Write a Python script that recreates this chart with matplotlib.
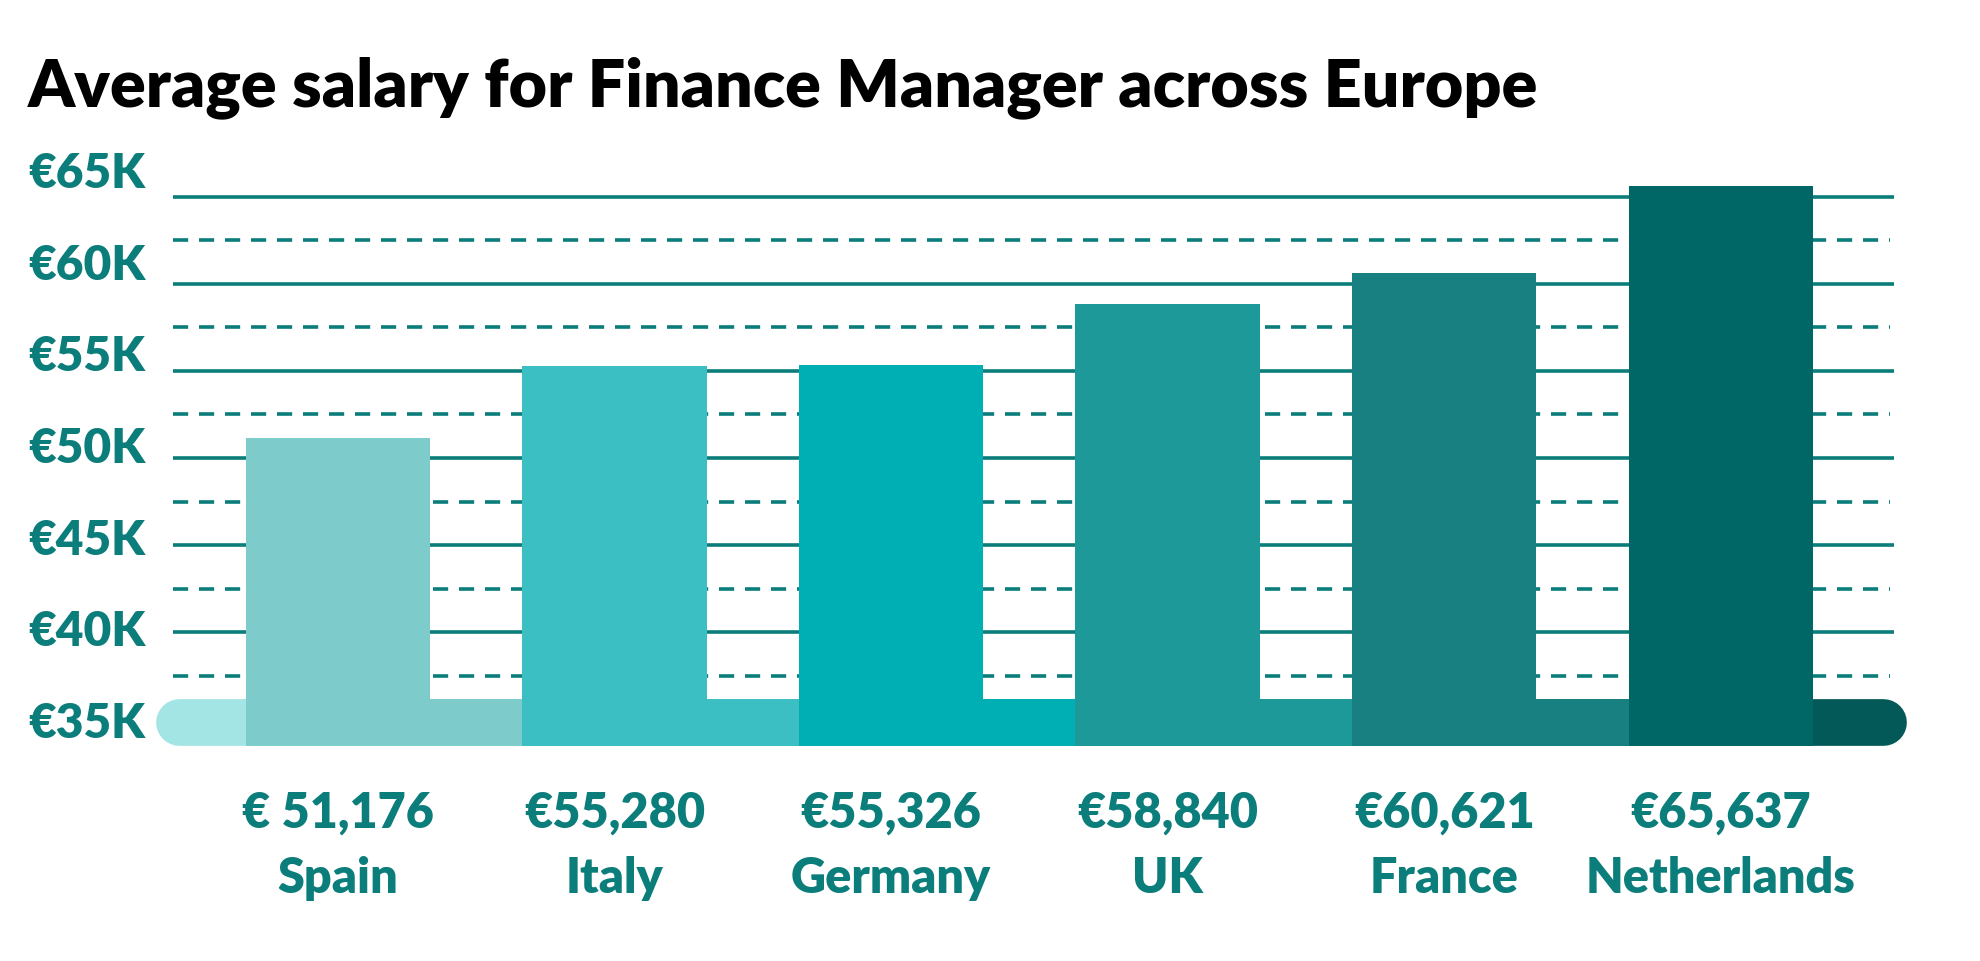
import matplotlib
matplotlib.use('Agg')
import matplotlib.pyplot as plt
import numpy as np

countries = ['Spain', 'Italy', 'Germany', 'UK', 'France', 'Netherlands']
salaries = [51176, 55280, 55326, 58840, 60621, 65637]
value_labels = ['€ 51,176', '€55,280', '€55,326', '€58,840', '€60,621', '€65,637']
bar_colors = ['#7ecbcb', '#3cbfc2', '#00afb3', '#1e9999', '#188080', '#006666']
cap_left_color = '#a3e4e4'
cap_right_color = '#035858'
major_ticks = [35, 40, 45, 50, 55, 60, 65]
tick_labels = ['€35K', '€40K', '€45K', '€50K', '€55K', '€60K', '€65K']
minor_ticks = [37.5, 42.5, 47.5, 52.5, 57.5, 62.5]

teal = '#0b7d7a'
font = ['Lato', 'DejaVu Sans']
plt.rcParams['font.family'] = font

W, H = 1980, 961
fig = plt.figure(figsize=(W / 100, H / 100), dpi=100)
ax = fig.add_axes([0, 0, 1, 1])
ax.set_xlim(-1.2213, 5.937)
ax.set_ylim(21.13, 76.29)
ax.axis('off')

x = np.arange(len(countries))
bar_w = 0.667
pill_bot, pill_top = 33.48, 36.16
pill_h = pill_top - pill_bot
pill_mid = (pill_top + pill_bot) / 2
pill_lw = 46.7 * 72 / 100
r = 23.35 / 276.6

# grid
ax.hlines(major_ticks[1:], -0.596, 5.626, color=teal, lw=2.6, zorder=1)
ax.hlines(minor_ticks, -0.596, 5.61, color=teal, lw=2.6, linestyles=(0, (4.2, 3.0)), zorder=1)

# rounded base strip
ax.plot([-0.66 + r, x[0]], [pill_mid, pill_mid], color=cap_left_color, lw=pill_lw,
        solid_capstyle='round', zorder=2)
ax.plot([x[-1], 5.67 - r], [pill_mid, pill_mid], color=cap_right_color, lw=pill_lw,
        solid_capstyle='round', zorder=2)
ax.bar(x[:-1] + 0.5, pill_h, width=1 - bar_w + 0.002, bottom=pill_bot,
       color=bar_colors[:-1], zorder=2, linewidth=0)

# bars
vals = np.array(salaries) / 1000
ax.bar(x, vals - pill_bot, width=bar_w, bottom=pill_bot, color=bar_colors, zorder=3, linewidth=0)

# labels under bars
for xi, lab, c in zip(x, value_labels, countries):
    ax.text(xi, 28.76, lab, ha='center', va='baseline', fontsize=35, fontweight='heavy', color=teal)
    ax.text(xi, 25.03, c, ha='center', va='baseline', fontsize=35, fontweight='heavy', color=teal)

# y axis labels
for t, lab in zip(major_ticks, tick_labels):
    ypx = 188 + (65 - t) / 5 * 91.7
    fig.text(28 / W, 1 - ypx / H, lab, ha='left', va='baseline', fontsize=34.5,
             fontweight='heavy', color=teal)

fig.text(28 / W, 1 - 106 / H, 'Average salary for Finance Manager across Europe',
         ha='left', va='baseline', fontsize=47.8, fontweight='heavy', color='black')

fig.savefig('out.png', dpi=100, facecolor='white')
